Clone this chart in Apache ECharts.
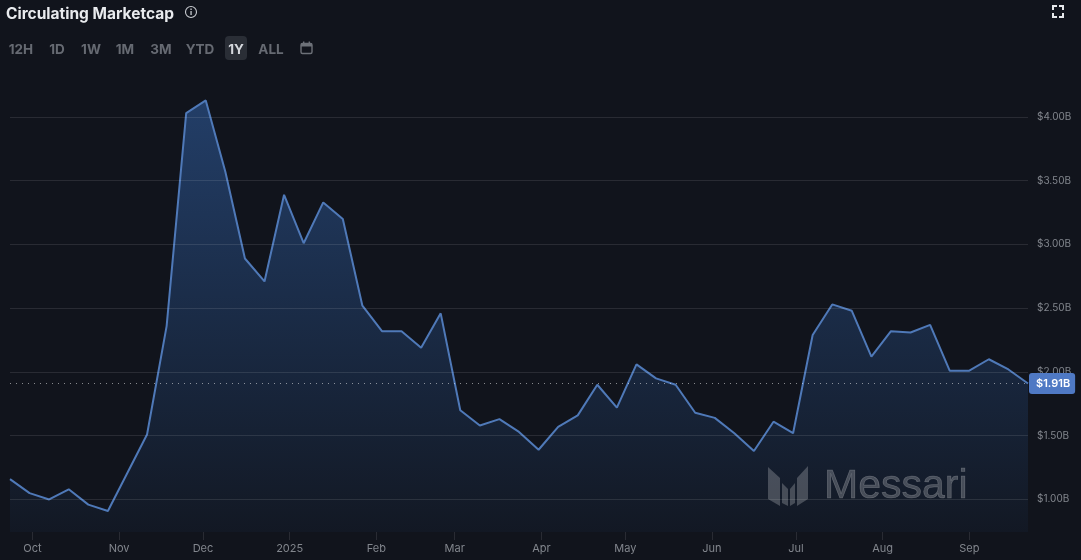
<!DOCTYPE html>
<html><head><meta charset="utf-8">
<style>html,body{margin:0;padding:0;background:#11141c}#c{width:1081px;height:560px}</style>
<script src="https://cdn.jsdelivr.net/npm/echarts@6/dist/echarts.min.js"></script>
</head><body><div id="c"></div>
<script>
const weeklyCap = [1.16,1.05,1.00,1.08,0.96,0.91,1.21,1.51,2.36,4.03,4.13,3.57,2.89,2.71,3.39,3.01,3.33,3.20,2.52,2.32,2.32,2.19,2.46,1.70,1.58,1.63,1.53,1.39,1.57,1.66,1.90,1.72,2.06,1.95,1.90,1.68,1.64,1.52,1.38,1.61,1.52,2.29,2.53,2.48,2.12,2.32,2.31,2.37,2.01,2.01,2.10,2.02,1.91];
const monthTicks = ['2024-10-01','2024-11-01','2024-12-01','2025-01-01','2025-02-01','2025-03-01','2025-04-01','2025-05-01','2025-06-01','2025-07-01','2025-08-01','2025-09-01'];
const monthLabels = ['Oct','Nov','Dec','2025','Feb','Mar','Apr','May','Jun','Jul','Aug','Sep'];
const priceTicks = [1,1.5,2,2.5,3,3.5,4];
const rangeTabs = [['12H',21],['1D',57],['1W',91],['1M',125],['3M',161],['YTD',200],['1Y',236],['ALL',271]];
const lastValue = 1.91;

const DAY = 86400000;
const t0 = Date.UTC(2024,8,23);
const points = weeklyCap.map((v,i)=>[t0+i*7*DAY,v]);
const monthMs = monthTicks.map(s=>Date.parse(s+'T00:00:00Z'));
const FONT = 'Inter, "Noto Sans", sans-serif';
const tabGraphics = rangeTabs.map(([t,x])=>({type:'text',x,y:50,z:20,style:{
  text:t,font:'700 13.5px '+FONT,fill:t==='1Y'?'#d5d8dd':'#666a72',align:'center',verticalAlign:'middle'}}));
const chart = echarts.init(document.getElementById('c'),null,{renderer:'canvas'});
const logoFill='rgba(255,255,255,0.22)';
chart.setOption({
  animation:false,
  backgroundColor:'#11141c',
  grid:{left:10,right:53,top:60,bottom:28},
  xAxis:{type:'value',min:t0,max:t0+52*7*DAY,scale:true,
    axisLine:{show:false},
    axisTick:{show:true,length:8,customValues:monthMs,lineStyle:{color:'rgba(255,255,255,0.1)'}},
    splitLine:{show:false},
    axisLabel:{customValues:monthMs,color:'#82868d',fontSize:11,fontFamily:FONT,margin:11,
      showMinLabel:true,showMaxLabel:true,
      formatter:(v)=>{const i=monthMs.indexOf(+v);return i<0?'':monthLabels[i];}}},
  yAxis:{type:'value',position:'right',min:0.745,max:4.447,
    axisLine:{show:false},axisTick:{show:false,customValues:priceTicks},
    splitLine:{show:false},
    axisLabel:{customValues:priceTicks,color:'#82868d',fontSize:10,fontFamily:FONT,margin:9,padding:[2,0,0,0],
      formatter:(v)=>'$'+(+v).toFixed(2)+'B'}},
  series:[
  {type:'line',data:points,symbol:'none',z:3,
    lineStyle:{color:'#4f79b8',width:2},
    areaStyle:{color:new echarts.graphic.LinearGradient(0,0,0,1,[
      {offset:0,color:'#2a5088'},{offset:0.5,color:'#1e3558'},{offset:1,color:'#131a27'}])},
    markLine:{silent:true,symbol:'none',z:4,animation:false,
      lineStyle:{color:'rgba(255,255,255,0.1)',type:'solid',width:1},
      label:{show:false},
      data:[...priceTicks.map(v=>({yAxis:v})),
        {yAxis:lastValue,
         lineStyle:{color:'rgba(255,255,255,0.5)',type:[1,5],width:1},
         label:{show:true,position:'end',distance:1,formatter:'$'+lastValue.toFixed(2)+'B',
          color:'#fff',backgroundColor:'#4f79c4',borderRadius:3,padding:[5,5,5,7],
          fontSize:11,fontWeight:600,fontFamily:FONT}}]}}
  ],
  graphic:[
   {type:'text',x:6,y:14,z:20,style:{text:'Circulating Marketcap',font:'700 15.5px '+FONT,fill:'#e9ebee',verticalAlign:'middle'}},
   {type:'circle',z:20,shape:{cx:191,cy:12,r:5.5},style:{fill:'none',stroke:'#c9ccd1',lineWidth:1.1}},
   {type:'rect',z:20,shape:{x:190.4,y:11,width:1.3,height:4},style:{fill:'#c9ccd1'}},
   {type:'rect',z:20,shape:{x:190.4,y:8.6,width:1.3,height:1.3},style:{fill:'#c9ccd1'}},
   {type:'rect',z:19,shape:{x:225,y:36,width:22,height:24,r:4},style:{fill:'#2a2e36'}},
   ...tabGraphics,
   {type:'rect',z:20,shape:{x:301,y:43.5,width:11,height:10,r:1.5},style:{fill:'none',stroke:'#6d7178',lineWidth:1.4}},
   {type:'rect',z:20,shape:{x:301,y:43.5,width:11,height:3},style:{fill:'#6d7178'}},
   {type:'rect',z:20,shape:{x:303,y:41.5,width:1.4,height:2.5},style:{fill:'#6d7178'}},
   {type:'rect',z:20,shape:{x:308.6,y:41.5,width:1.4,height:2.5},style:{fill:'#6d7178'}},
   {type:'polyline',z:20,shape:{points:[[1053,10],[1053,6],[1057,6]]},style:{fill:'none',stroke:'#e6e8eb',lineWidth:2}},
   {type:'polyline',z:20,shape:{points:[[1059,6],[1063,6],[1063,10]]},style:{fill:'none',stroke:'#e6e8eb',lineWidth:2}},
   {type:'polyline',z:20,shape:{points:[[1053,13],[1053,17],[1057,17]]},style:{fill:'none',stroke:'#e6e8eb',lineWidth:2}},
   {type:'polyline',z:20,shape:{points:[[1059,17],[1063,17],[1063,13]]},style:{fill:'none',stroke:'#e6e8eb',lineWidth:2}},
   {type:'polygon',z:20,shape:{points:[[768,467],[780,478],[780,506],[768,499]]},style:{fill:logoFill}},
   {type:'polygon',z:20,shape:{points:[[782,483],[788,489],[788,506],[782,503]]},style:{fill:logoFill}},
   {type:'polygon',z:20,shape:{points:[[790,489],[795,483],[795,503],[790,506]]},style:{fill:logoFill}},
   {type:'polygon',z:20,shape:{points:[[797,478],[808,466],[808,499],[797,506]]},style:{fill:logoFill}},
   {type:'text',x:824,y:487,z:20,style:{text:'Messari',font:'400 41px "Liberation Sans", Arial, sans-serif',fill:logoFill,stroke:logoFill,lineWidth:0.6,verticalAlign:'middle'}}
  ]
});
</script></body></html>
